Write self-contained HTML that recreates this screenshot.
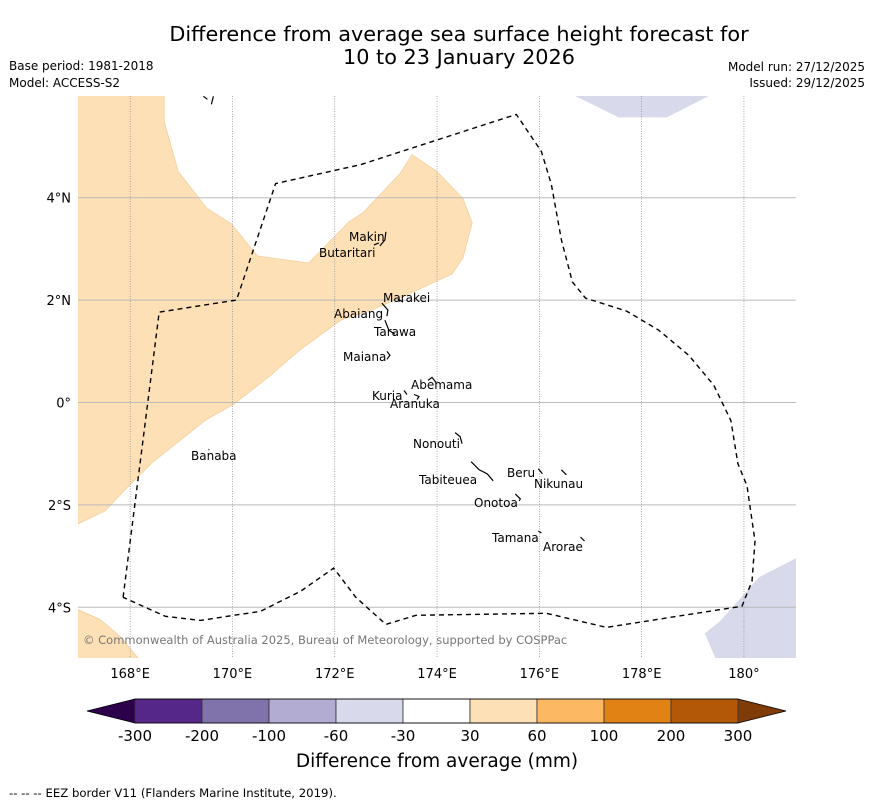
<!DOCTYPE html>
<html><head><meta charset="utf-8"><style>
body{margin:0;background:#fff;width:873px;height:804px;overflow:hidden;font-family:"DejaVu Sans","Liberation Sans",sans-serif}
</style></head><body>
<svg width="873" height="804" viewBox="0 0 873 804">
<text x="459" y="41" font-size="20.8" text-anchor="middle">Difference from average sea surface height forecast for</text>
<text x="459" y="64" font-size="20.8" text-anchor="middle">10 to 23 January 2026</text>
<text x="9" y="70" font-size="12">Base period: 1981-2018</text>
<text x="9" y="87" font-size="12">Model: ACCESS-S2</text>
<text x="865" y="71" font-size="12" text-anchor="end">Model run: 27/12/2025</text>
<text x="865" y="87" font-size="12" text-anchor="end">Issued: 29/12/2025</text>
<defs><clipPath id="mc"><rect x="78" y="96" width="718" height="562"/></clipPath></defs>
<g id="map" clip-path="url(#mc)"></g>
<g id="axes"></g>
<g id="cbar"></g>
<text x="437" y="767" font-size="18.5" text-anchor="middle">Difference from average (mm)</text>
<text x="9" y="797" font-size="11.7">--  --  -- EEZ border V11 (Flanders Marine Institute, 2019).</text>
</svg>
<script>
const lonTicks=[168,170,172,174,176,178,180];
const lonLabels=["168°E","170°E","172°E","174°E","176°E","178°E","180°"];
const latTicks=[4,2,0,-2,-4];
const latLabels=["4°N","2°N","0°","2°S","4°S"];
const cbBounds=["-300","-200","-100","-60","-30","30","60","100","200","300"];
const cbColors=["#542788","#8073ac","#b2abd2","#d8daeb","#ffffff","#fee0b6","#fdb863","#e08214","#b35806"];
const cbExtLow="#2d004b", cbExtHigh="#7f3b08";
const P=(a)=>a.map(p=>[167+(p[0]-79)/51,(402-p[1])/51]);
const orangeMain=P([[70,96],[164,96],[164,122],[178,172],[206,208],[231,224],[257,256],[308,263],[348,222],[362,213],[399,174],[411,155],[436,172],[462,199],[471,223],[462,258],[451,274],[412,292],[371,310],[340,320],[299,350],[270,375],[233,404],[206,419],[152,462],[124,490],[105,510],[70,527]]);
const orangeSW=P([[70,605],[100,618],[120,635],[145,665],[70,665]]);
const purpleTop=P([[550,85],[730,85],[665,118],[617,118]]);
const purpleSE=P([[800,554],[757,576],[718,620],[703,632],[717,665],[800,665]]);
const eez=P([[123,596],[159,312],[236,300],[275,184],[360,165],[515,115],[540,152],[550,185],[560,240],[571,282],[584,298],[625,311],[657,330],[687,355],[712,385],[729,420],[736,463],[745,485],[753,540],[750,580],[740,605],[720,608],[605,626],[545,612],[415,614],[385,623],[355,596],[333,567],[300,590],[260,610],[200,619],[165,615],[123,596]]);
const islands=[["Makin",349,241,[[379,246],[384,240],[385,232]]],["Butaritari",319,257,[[373,245],[378,243]]],["Marakei",383,302,[[397,299],[402,302]]],["Abaiang",334,318,[[381,303],[387,310],[386,316]]],["Tarawa",374,336,[[384,320],[388,330],[394,334]]],["Maiana",343,361,[[386,351],[389,355],[386,359]]],["Abemama",411,389,[[427,380],[431,377],[435,382]]],["Kuria",372,400,[[403,390],[406,394]]],["Aranuka",390,408,[[413,394],[418,396],[416,399]]],["Banaba",191,460,[[208,449],[209,449]]],["Nonouti",413,448,[[454,432],[459,436],[461,443]]],["Beru",507,477,[[537,468],[541,473]]],["Nikunau",534,488,[[560,469],[565,474]]],["Tabiteuea",419,484,[[470,461],[478,469],[486,473],[492,480]]],["Onotoa",474,507,[[514,493],[519,498],[518,500]]],["Tamana",492,542,[[537,530],[540,532]]],["Arorae",543,551,[[579,536],[583,540]]]];
const NS="http://www.w3.org/2000/svg";
const xS=lon=>79+(lon-167)*51.15, yS=lat=>402.5-lat*51.2;
function mk(t,a,parent){const e=document.createElementNS(NS,t);for(const k in a)e.setAttribute(k,a[k]);parent.appendChild(e);return e;}
const map=document.getElementById('map'),axes=document.getElementById('axes'),cb=document.getElementById('cbar');
const pts=a=>a.map(p=>xS(p[0]).toFixed(1)+','+yS(p[1]).toFixed(1)).join(' ');
let e;
e=mk('polygon',{points:pts(orangeMain),fill:'#fee0b6',stroke:'#f0c890','stroke-width':0.6},map);


e=mk('polygon',{points:pts(orangeSW),fill:'#fee0b6',stroke:'#f0c890','stroke-width':0.6},map);


e=mk('polygon',{points:pts(purpleTop),fill:'#d8daeb'},map);


e=mk('polygon',{points:pts(purpleSE),fill:'#d8daeb'},map);


lonTicks.forEach((v,i)=>{
 e=mk('line',{x1:xS(v),x2:xS(v),y1:96,y2:658,stroke:'#888','stroke-width':0.7,'stroke-dasharray':'1,1.5'},map);
 
 
 e=mk('text',{x:xS(v),y:678,'font-size':13,'text-anchor':'middle'},axes);e.textContent=lonLabels[i];
 
 
});
latTicks.forEach((v,i)=>{
 e=mk('line',{x1:78,x2:796,y1:yS(v),y2:yS(v),stroke:'#bbb','stroke-width':1},map);
 
 
 e=mk('text',{x:71,y:yS(v)+5,'font-size':13,'text-anchor':'end'},axes);e.textContent=latLabels[i];
 
 
});
e=mk('polyline',{points:pts(eez),fill:'none',stroke:'#000','stroke-width':1.4,'stroke-dasharray':'5,4'},map);


e=mk('polyline',{points:pts(P([[203,97],[207,100]])),fill:'none',stroke:'#000','stroke-width':1.2},map);


e=mk('polyline',{points:pts(P([[213,97],[211,105]])),fill:'none',stroke:'#000','stroke-width':1.2},map);


islands.forEach(d=>{
 e=mk('polyline',{points:pts(P(d[3])),fill:'none',stroke:'#000','stroke-width':1.2},map);
 
 
 e=mk('text',{x:d[1],y:d[2],'font-size':12},map);e.textContent=d[0];
 
 
});
e=mk('text',{x:83,y:644,'font-size':11.5,fill:'#777'},map);e.textContent="© Commonwealth of Australia 2025, Bureau of Meteorology, supported by COSPPac";


const cx0=135,cx1=738,cy=699,ch=24,n=cbColors.length,w=(cx1-cx0)/n;
e=mk('polygon',{points:`${cx0},${cy} 87,${cy+ch/2} ${cx0},${cy+ch}`,fill:cbExtLow},cb);


e=mk('polygon',{points:`${cx1},${cy} 786,${cy+ch/2} ${cx1},${cy+ch}`,fill:cbExtHigh},cb);


cbColors.forEach((c,i)=>{
 e=mk('rect',{x:cx0+i*w,y:cy,width:w,height:ch,fill:c,stroke:'#333','stroke-width':0.8},cb);
 
 
});
e=mk('polygon',{points:`${cx0},${cy} 87,${cy+ch/2} ${cx0},${cy+ch} ${cx1},${cy+ch} 786,${cy+ch/2} ${cx1},${cy}`,fill:'none',stroke:'#000','stroke-width':0.8},cb);


cbBounds.forEach((b,i)=>{
 e=mk('text',{x:cx0+i*w,y:741,'font-size':15,'text-anchor':'middle'},cb);e.textContent=b;
 
 
});
</script>
</body></html>
